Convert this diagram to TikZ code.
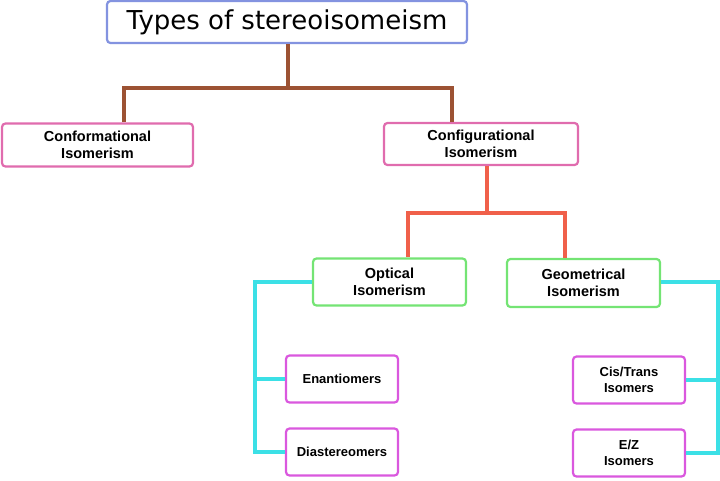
\documentclass[tikz,border=0pt]{standalone}
\usepackage{fontspec}
\setmainfont{Liberation Sans}
\newfontfamily\titlefont{DejaVu Sans}
\definecolor{titleblue}{HTML}{8393E0}
\definecolor{brownline}{HTML}{9C5233}
\definecolor{orangeline}{HTML}{F0604A}
\definecolor{greenbox}{HTML}{74E474}
\definecolor{cyanline}{HTML}{3BE0E6}
\definecolor{pinkbox}{HTML}{E06CAE}
\definecolor{magbox}{HTML}{DA58DE}
\tikzset{
  box/.style={draw, line width=2.2pt, rounded corners=3.5pt, fill=white, align=center, inner sep=0pt},
  upper/.style={box, font=\fontsize{14.5}{17}\selectfont\bfseries},
  lower/.style={box, draw=magbox, minimum width=112pt, minimum height=47pt, font=\fontsize{13}{16}\selectfont\bfseries},
  conn/.style={line width=3.4pt},
}
\begin{document}
\begin{tikzpicture}[x=1pt,y=-1pt]
\useasboundingbox (0,0) rectangle (720,480);
\node[box, draw=titleblue, minimum width=360pt, minimum height=42pt, font=\titlefont\fontsize{26}{28}\selectfont] (title) at (287,22) {Types of stereoisomeism};
\node[upper, draw=pinkbox, minimum width=191pt, minimum height=43pt] (conf) at (97.5,145) {Conformational\\Isomerism};
\node[upper, draw=pinkbox, minimum width=194pt, minimum height=42pt] (config) at (481,144) {Configurational\\Isomerism};
\node[upper, draw=greenbox, minimum width=153pt, minimum height=47pt] (opt) at (389.5,282) {Optical\\Isomerism};
\node[upper, draw=greenbox, minimum width=153pt, minimum height=48pt] (geo) at (583.5,283) {Geometrical\\Isomerism};
\node[lower] (enan) at (342,379) {Enantiomers};
\node[lower] (dia) at (342,452) {Diastereomers};
\node[lower] (cis) at (629,380) {Cis/Trans\\Isomers};
\node[lower] (ez) at (629,453) {E/Z\\Isomers};
% brown connectors
\coordinate (bmid) at (288,88);
\coordinate (bl) at (124,88);
\coordinate (br) at (452,88);
\draw[conn, brownline] (title.south -| bmid) -- (bmid);
\draw[conn, brownline] (conf.north -| bl) -- (bl) -- (br) -- (config.north -| br);
% orange connectors
\coordinate (omid) at (487,213);
\coordinate (ol) at (408,213);
\coordinate (or) at (565,213);
\draw[conn, orangeline] (config.south -| omid) -- (omid);
\draw[conn, orangeline] (opt.north -| ol) -- (ol) -- (or) -- (geo.north -| or);
% cyan left
\coordinate (cl) at (255,282);
\draw[conn, cyanline] (opt.west |- cl) -- (cl) |- (dia.west);
\draw[conn, cyanline] (cl |- enan.west) -- (enan.west);
% cyan right
\coordinate (cr) at (718,282);
\draw[conn, cyanline] (geo.east |- cr) -- (cr) |- (ez.east);
\draw[conn, cyanline] (cr |- cis.east) -- (cis.east);
\end{tikzpicture}
\end{document}
